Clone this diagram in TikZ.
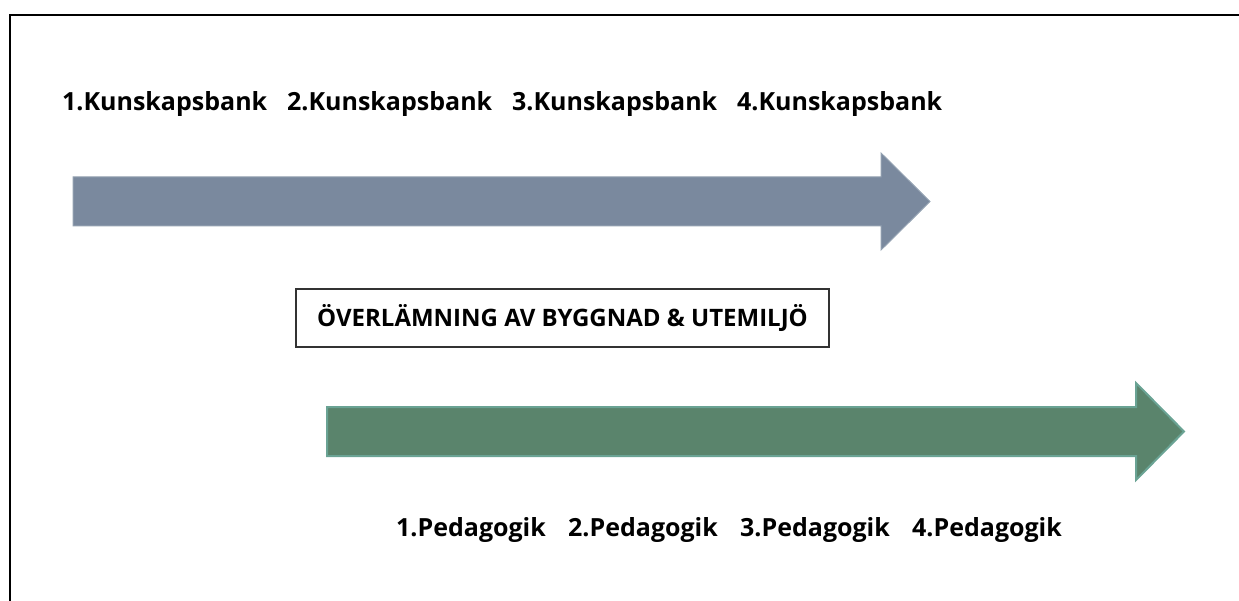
\documentclass[tikz,border=0pt]{standalone}
\usepackage{fontspec}
\setmainfont{Open Sans}
\definecolor{bankfill}{HTML}{7A899E}
\definecolor{bankline}{HTML}{93A1B1}
\definecolor{pedfill}{HTML}{5A846C}
\definecolor{pedline}{HTML}{6AA394}
\tikzset{
    steptext/.style = {font = \fontsize{25}{30}\selectfont\bfseries, inner sep = 0pt},
    handover/.style = {draw = black!80, line width = 1.5pt, minimum width = 533pt,
        minimum height = 58pt, font = \fontsize{24}{29}\selectfont\bfseries}
}
\begin{document}
\begin{tikzpicture}[x = 1pt, y = -1pt]
        \useasboundingbox (0,0) rectangle (1239,601);
        % frame
        \draw[line width = 2.5pt] (10,601) -- (10,15) -- (1239,15);
        % upper arrow
        \draw[fill = bankfill, draw = bankline, line width = 1pt]
            (73,177) -- (881,177) -- (881,153) -- (930,201.5) -- (881,250) -- (881,226) -- (73,226) -- cycle;
        \foreach \i in {1, ..., 4}
            \node[steptext, anchor = base west] (bank\i) at (62+225*\i-225, 111) {\i.Kunskapsbank};
        % handover box
        \node[handover] (handover) at (562.5,318) {ÖVERLÄMNING AV BYGGNAD \& UTEMILJÖ};
        % lower arrow
        \draw[fill = pedfill, draw = pedline, line width = 2pt]
            (327,407) -- (1136,407) -- (1136,383) -- (1184,431.5) -- (1136,480) -- (1136,456) -- (327,456) -- cycle;
        \foreach \i in {1, ..., 4}
            \node[steptext, anchor = base west] (ped\i) at (396+172*\i-172, 536) {\i.Pedagogik};
    \end{tikzpicture}
\end{document}
